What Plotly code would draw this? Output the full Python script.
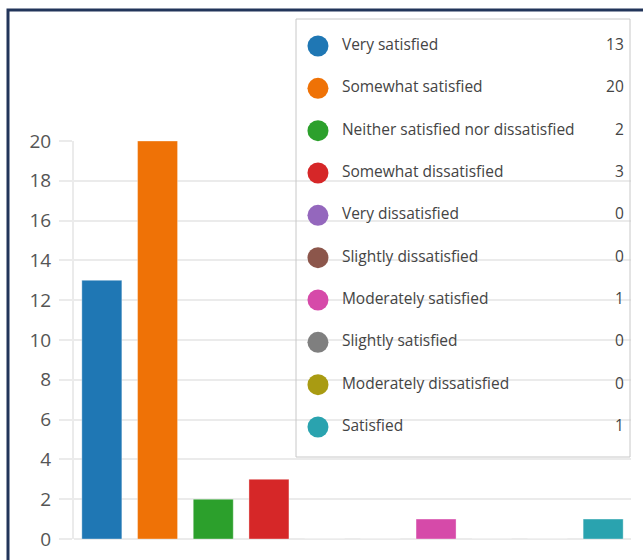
import plotly.graph_objects as go

categories = ["Very satisfied", "Somewhat satisfied", "Neither satisfied nor dissatisfied",
              "Somewhat dissatisfied", "Very dissatisfied", "Slightly dissatisfied",
              "Moderately satisfied", "Slightly satisfied", "Moderately dissatisfied", "Satisfied"]
values = [13, 20, 2, 3, 0, 0, 1, 0, 0, 1]
colors = ["#1f77b4", "#ef7206", "#2ca02c", "#d62728", "#9467bd", "#8c564b",
          "#d64aa9", "#7f7f7f", "#a99b12", "#2aa3af"]
y_ticks = [0, 2, 4, 6, 8, 10, 12, 14, 16, 18, 20]

W, H = 643, 560
L, R, T, B = 74, 12, 15, 21
pw, ph = W - L - R, H - T - B

def px2x(px):
    return (px - L) / pw

def py2y(py):
    return (H - B - py) / ph

FONT = "Open Sans, Noto Sans, sans-serif"
GRID = "#ebebeb"

fig = go.Figure()

fig.add_trace(go.Bar(
    x=categories, y=values,
    marker=dict(color=colors, line=dict(color="rgba(255,255,255,0.35)", width=1)),
    showlegend=False, hoverinfo="x+y",
))

idx = list(range(len(categories)))
# custom legend on separate axes
fig.add_trace(go.Scatter(
    x=[0.438] * len(categories), y=idx, mode="markers",
    marker=dict(size=21, color=colors), xaxis="x2", yaxis="y2",
    showlegend=False, hoverinfo="skip",
))
fig.add_trace(go.Scatter(
    x=[0.481] * len(categories), y=idx, mode="text", text=categories,
    textposition="middle right", textfont=dict(family=FONT, size=15.5, color="#444444"),
    marker=dict(size=0), xaxis="x2", yaxis="y2", showlegend=False, hoverinfo="skip",
))
fig.add_trace(go.Scatter(
    x=[0.987] * len(categories), y=idx, mode="text", text=[str(v) for v in values],
    textposition="middle left", textfont=dict(family=FONT, size=15.5, color="#444444"),
    marker=dict(size=0), xaxis="x2", yaxis="y2", showlegend=False, hoverinfo="skip",
))

main_top = (H - B - 141) / ph
row_px = 42.33
v_top = -(46 - T) / row_px
v_bot = v_top + ph / row_px

fig.update_layout(
    width=W, height=H,
    margin=dict(l=L, r=R, t=T, b=B, autoexpand=False),
    paper_bgcolor="white", plot_bgcolor="rgba(0,0,0,0)",
    bargap=0.282,
    font=dict(family=FONT, color="#555555"),
    xaxis=dict(domain=[0, 1], range=[-0.5, len(categories) - 0.5], showticklabels=False, showgrid=False,
               zeroline=False, showline=False, ticks="", fixedrange=True, automargin=False),
    yaxis=dict(domain=[0, main_top], range=[0, 20], tickvals=y_ticks,
               showgrid=True, gridcolor=GRID, gridwidth=2,
               zeroline=True, zerolinecolor=GRID, zerolinewidth=2,
               showline=True, linecolor=GRID, linewidth=2,
               ticks="outside", ticklen=13, tickcolor=GRID, tickwidth=2,
               tickfont=dict(family=FONT, size=19, color="#555555"),
               ticklabelstandoff=4, fixedrange=True, automargin=False),
    xaxis2=dict(domain=[0, 1], range=[0, 1], anchor="y2", visible=False, fixedrange=True, automargin=False),
    yaxis2=dict(domain=[0, 1], range=[v_bot, v_top], anchor="x2", visible=False, fixedrange=True, automargin=False),
    shapes=[
        dict(type="rect", xref="paper", yref="paper",
             x0=px2x(296), x1=px2x(630), y0=py2y(457), y1=py2y(19),
             line=dict(color="#c8c8c8", width=1), fillcolor="rgba(0,0,0,0)", layer="above"),
        dict(type="rect", xref="paper", yref="paper",
             x0=px2x(8), x1=px2x(720), y0=py2y(620), y1=py2y(10),
             line=dict(color="#22355a", width=3), fillcolor="rgba(0,0,0,0)", layer="above"),
    ],
)

fig.write_html("out.html", config={"displayModeBar": False})
